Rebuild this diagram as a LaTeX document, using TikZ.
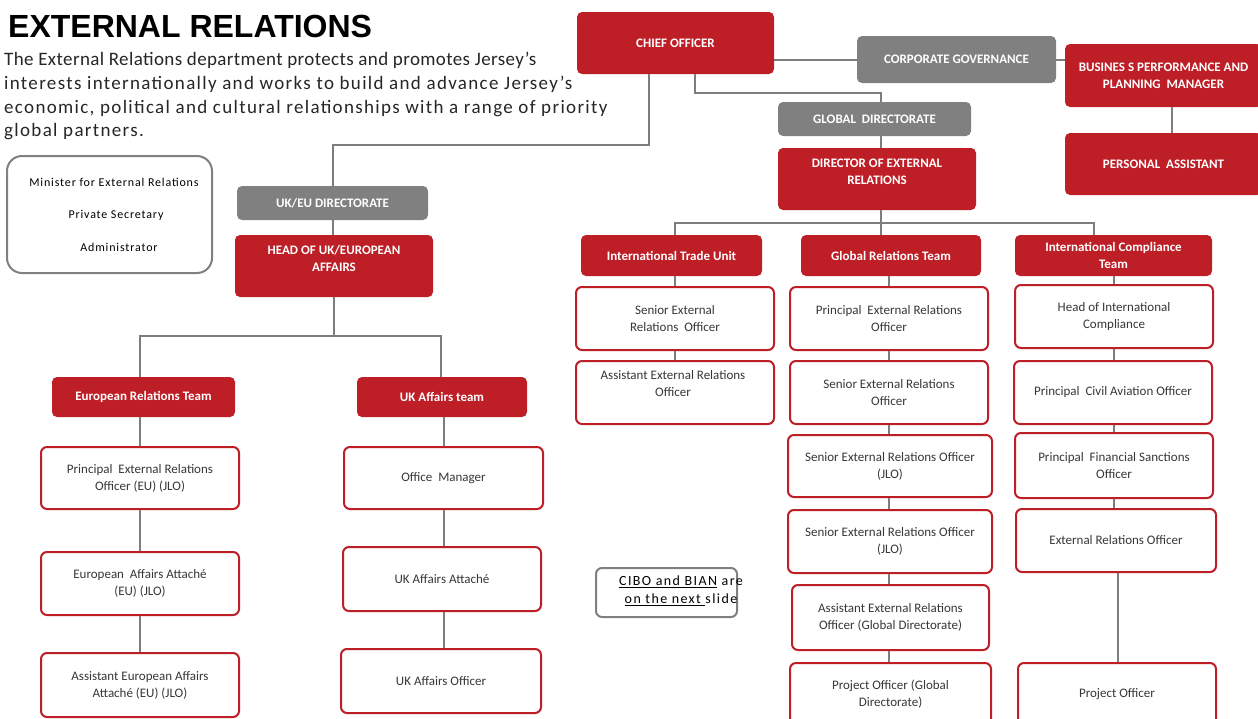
\documentclass[tikz,border=0pt]{standalone}
\usepackage{fontspec}
\setmainfont{Carlito}
\newfontfamily\titlefont{Liberation Sans}
\newfontfamily\spacedfont[LetterSpace=7]{Carlito}
\newfontfamily\tightfont[LetterSpace=2]{Carlito}
\newfontfamily\minfont[LetterSpace=7]{Carlito}
\newfontfamily\widefont[LetterSpace=10]{Carlito}
\usetikzlibrary{calc}
\definecolor{ored}{RGB}{190,30,38}
\definecolor{ogray}{RGB}{128,128,128}
\definecolor{lgray}{RGB}{125,125,125}
\definecolor{txt}{RGB}{55,55,55}
\tikzset{
  hdr/.style={fill=ored, rounded corners=5pt, text=white, font=\fontsize{13}{17}\selectfont\bfseries, align=center, inner sep=0pt},
  grayhdr/.style={hdr, fill=ogray},
  hdrtext/.style={text=white, font=\fontsize{13}{17}\selectfont\bfseries, align=center, inner sep=0pt},
  emp/.style={draw=ored, line width=2pt, fill=white, rounded corners=6pt, font=\fontsize{13}{17}\selectfont, text=txt, align=center, inner sep=0pt},
  emptext/.style={font=\fontsize{13}{17}\selectfont, text=txt, align=center, inner sep=0pt},
  conn/.style={draw=lgray, line width=2pt},
  desc/.style={anchor=base west, inner sep=0pt, text=black!85, font=\spacedfont\fontsize{19}{24}\selectfont},
  mintext/.style={inner sep=0pt, text=black, font=\minfont\fontsize{12}{16}\selectfont},
}
\newcommand{\bx}[7]{\node[#2, minimum width={#5-#3}, minimum height={#6-#4}] (#1) at ({(#3+#5)/2},{(#4+#6)/2}) {#7};}
\begin{document}
\begin{tikzpicture}[x=1pt,y=-1pt]
\clip (0,0) rectangle (1258,718);
\fill[white] (0,0) rectangle (1258,718);

% title and description
\node[anchor=base west, inner sep=0pt, font=\titlefont\bfseries\fontsize{32}{36}\selectfont] (title) at (8,37) {EXTERNAL RELATIONS};
\node[desc, font=\tightfont\fontsize{19}{24}\selectfont] (d1) at (4,65) {The External Relations department protects and promotes Jersey’s};
\node[desc] (d2) at (4,89) {interests internationally and works to build and advance Jersey’s};
\node[desc] (d3) at (4,113) {economic, political and cultural relationships with a range of priority};
\node[desc] (d4) at (4,136) {global partners.};

% minister box
\node[draw=ogray, line width=2pt, rounded corners=15pt, minimum width=205, minimum height=117, inner sep=0pt] (minbox) at (109.5,214.5) {};
\node[mintext] (m1) at (114,182) {Minister for External Relations};
\node[mintext] (m2) at (116,215) {Private Secretary};
\node[mintext] (m3) at (119,247) {Administrator};

% top
\bx{co}{hdr}{577}{12}{774}{74}{CHIEF OFFICER}
\bx{cg}{grayhdr}{857}{36}{1056}{83}{CORPORATE GOVERNANCE}
\bx{biz}{hdr}{1065}{44}{1262}{107}{BUSINES S PERFORMANCE AND\\PLANNING\ \ MANAGER}
\bx{pa}{hdr}{1065}{133}{1262}{195}{PERSONAL\ \ ASSISTANT}

% UK/EU side
\bx{ukeu}{grayhdr}{237}{186}{428}{220}{UK/EU DIRECTORATE}
\bx{head}{hdr}{235}{235}{433}{297}{}
\node[hdrtext] (headt) at (334,258) {HEAD OF UK/EUROPEAN\\AFFAIRS};
\bx{ert}{hdr}{52}{377}{235}{417}{European Relations Team}
\bx{uat}{hdr}{357}{377}{527}{417}{UK Affairs team}

\bx{e1}{emp}{41}{447}{239}{509}{Principal\ \ External Relations\\Officer (EU) (JLO)}
\bx{e2}{emp}{41}{552}{239}{615}{European\ \ Affairs Attaché\\(EU) (JLO)}
\bx{e3}{emp}{41}{653}{239}{717}{Assistant European Affairs\\Attaché (EU) (JLO)}

\bx{u1}{emp}{344}{447}{543}{509}{Office\ \ Manager}
\bx{u2}{emp}{343}{547}{541}{611}{UK Affairs Attaché}
\bx{u3}{emp}{341}{649}{541}{713}{UK Affairs Officer}

% Global side
\bx{gd}{grayhdr}{778}{102}{971}{136}{GLOBAL\ \ DIRECTORATE}
\bx{dir}{hdr}{778}{148}{976}{210}{}
\node[hdrtext] (dirt) at (877,171.5) {DIRECTOR OF EXTERNAL\\RELATIONS};

\bx{itu}{hdr}{581}{235}{762}{276}{International Trade Unit}
\bx{grt}{hdr}{801}{235}{981}{276}{Global Relations Team}
\bx{ict}{hdr}{1015}{235}{1212}{276}{International Compliance\\Team}

\bx{t1}{emp}{576}{287}{774}{350}{Senior External\\Relations\ \ Officer}
\bx{t2}{emp}{576}{361}{774}{424}{}
\node[emptext] (t2t) at (673,384) {Assistant External Relations\\Officer};

\bx{g1}{emp}{790}{287}{988}{350}{Principal\ \ External Relations\\Officer}
\bx{g2}{emp}{790}{361}{988}{424}{Senior External Relations\\Officer}
\bx{g3}{emp}{788}{435}{992}{497}{Senior External Relations Officer\\(JLO)}
\bx{g4}{emp}{788}{510}{992}{573}{Senior External Relations Officer\\(JLO)}
\bx{g5}{emp}{792}{585}{989}{650}{Assistant External Relations\\Officer (Global Directorate)}
\bx{g6}{emp}{790}{663}{991}{725}{Project Officer (Global\\Directorate)}

\bx{c1}{emp}{1015}{285}{1213}{348}{Head of International\\Compliance}
\bx{c2}{emp}{1014}{361}{1212}{424}{Principal\ \ Civil Aviation Officer}
\bx{c3}{emp}{1015}{433}{1213}{498}{Principal\ \ Financial Sanctions\\Officer}
\bx{c4}{emp}{1016}{509}{1216}{572}{External Relations Officer}
\bx{c5}{emp}{1018}{663}{1216}{725}{Project Officer}

% CIBO note
\node[draw=ogray, line width=2pt, rounded corners=6pt, minimum width=141, minimum height=49, inner sep=0pt] (cibo) at (666.5,592.5) {};
\node[inner sep=0pt, align=center, font=\widefont\fontsize{14}{18}\selectfont] (cibot) at (681,591) {\underline{CIBO and BIAN} are\\\underline{on the next }slide};

% connectors
\coordinate (gdx) at (881,93);
\coordinate (lbus) at (333,145);
\coordinate (tbus) at (881,223);
\coordinate (ebus) at (334,336);
\draw[conn] (co.east |- cg.west) -- (cg.west);
\draw[conn] (cg.east) -- (cg.east -| biz.west);
\draw[conn] ([xshift=8.5pt]biz.south) -- ([xshift=8.5pt]biz.south |- pa.north);
\draw[conn] ([xshift=-26.5pt]co.south) |- (lbus) -- (lbus |- ukeu.north);
\draw[conn] (lbus |- ukeu.south) -- (lbus |- head.north);
\draw[conn] ([xshift=19.5pt]co.south) |- (gdx) -- (gdx |- gd.north);
\draw[conn] (gdx |- gd.south) -- (gdx |- dir.north);
\draw[conn] (gdx |- dir.south) -- (tbus) -- (tbus |- grt.north);
\draw[conn] ([xshift=3.5pt]itu.north) |- ([xshift=-19.5pt]ict.north |- tbus) -- ([xshift=-19.5pt]ict.north);
\draw[conn] (head.south) -- (ebus);
\draw[conn] ([xshift=-3.5pt]ert.north) |- ([xshift=-1pt]uat.north |- ebus) -- ([xshift=-1pt]uat.north);
% columns
\draw[conn] (e1.north |- ert.south) -- (e1.north);
\draw[conn] (e1.south) -- (e2.north);
\draw[conn] (e2.south) -- (e3.north);
\draw[conn] (u1.north |- uat.south) -- (u1.north);
\draw[conn] (u1.south) -- (u1.south |- u2.north);
\draw[conn] (u1.south |- u2.south) -- (u1.south |- u3.north);
\draw[conn] (t1.north |- itu.south) -- (t1.north);
\draw[conn] (t1.south) -- (t2.north);
\draw[conn] (g1.north |- grt.south) -- (g1.north);
\draw[conn] (g1.south) -- (g2.north);
\draw[conn] (g2.south) -- (g2.south |- g3.north);
\draw[conn] (g2.south |- g3.south) -- (g2.south |- g4.north);
\draw[conn] (g2.south |- g4.south) -- (g2.south |- g5.north);
\draw[conn] (g2.south |- g5.south) -- (g2.south |- g6.north);
\draw[conn] (c1.north |- ict.south) -- (c1.north);
\draw[conn] (c1.south) -- (c1.south |- c2.north);
\draw[conn] (c1.south |- c2.south) -- (c1.south |- c3.north);
\draw[conn] (c1.south |- c3.south) -- (c1.south |- c4.north);
\draw[conn] ([xshift=2pt]c4.south) -- ([xshift=2pt]c4.south |- c5.north);
\end{tikzpicture}
\end{document}
